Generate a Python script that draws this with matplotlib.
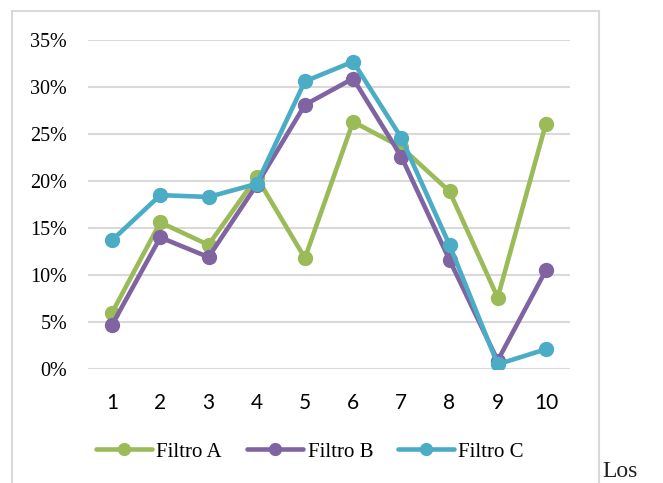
import matplotlib
matplotlib.use("Agg")
import matplotlib.pyplot as plt
from matplotlib.patches import Rectangle
from matplotlib.ticker import FuncFormatter

x = list(range(1, 11))
filtro_a = [6.0, 15.6, 13.2, 20.4, 11.8, 26.3, 23.6, 18.9, 7.6, 26.1]
filtro_b = [4.7, 14.0, 11.9, 19.6, 28.1, 30.9, 22.6, 11.6, 0.9, 10.5]
filtro_c = [13.7, 18.5, 18.3, 19.7, 30.6, 32.7, 24.6, 13.2, 0.5, 2.1]
names = ["Filtro A", "Filtro B", "Filtro C"]
colors = ["#9BBB59", "#8064A2", "#4BACC6"]

serif = ["Liberation Serif", "DejaVu Serif"]

fig = plt.figure(figsize=(6.63, 4.83), dpi=100)
W, H = 663, 483

# chart frame
fig.patches.append(Rectangle((12 / W, -0.05), (599 - 12) / W, 1 - 11 / H + 0.05,
                             transform=fig.transFigure, fill=False,
                             edgecolor="#D9D9D9", linewidth=1.5))

ax = fig.add_axes([88 / W, 1 - 369 / H, (570 - 88) / W, (369 - 40) / H])
for vals, name, c in zip([filtro_a, filtro_b, filtro_c], names, colors):
    ax.plot(x, vals, color=c, linewidth=3.3, marker="o", markersize=10,
            label=name, solid_capstyle="round")

ax.set_xlim(0.5, 10.5)
ax.set_ylim(0, 35)
ax.set_yticks(range(0, 36, 5))
ax.yaxis.set_major_formatter(FuncFormatter(lambda v, p: f"{int(v)}%"))
ax.set_xticks(x)
ax.grid(axis="y", color="#D9D9D9", linewidth=1.5)
ax.set_axisbelow(True)
for s in ax.spines.values():
    s.set_visible(False)
ax.tick_params(length=0)
ax.tick_params(axis="y", pad=15)
ax.tick_params(axis="x", pad=17)
for t in ax.get_yticklabels():
    t.set_family(serif)
    t.set_fontsize(14.5)
for t in ax.get_xticklabels():
    t.set_family(["Lato", "DejaVu Sans"])
    t.set_fontsize(15)

leg = fig.legend(loc="center", bbox_to_anchor=(310 / W, 1 - 452 / H), ncol=3,
                 frameon=False, prop={"family": serif, "size": 15},
                 handlelength=2.7, handletextpad=0.2, columnspacing=1.2,
                 markerscale=0.85)

fig.text(602 / W, 0.002, "Los", family=serif, fontsize=17,
         va="bottom", ha="left", color="#222222")

fig.savefig("out.png", dpi=100)
